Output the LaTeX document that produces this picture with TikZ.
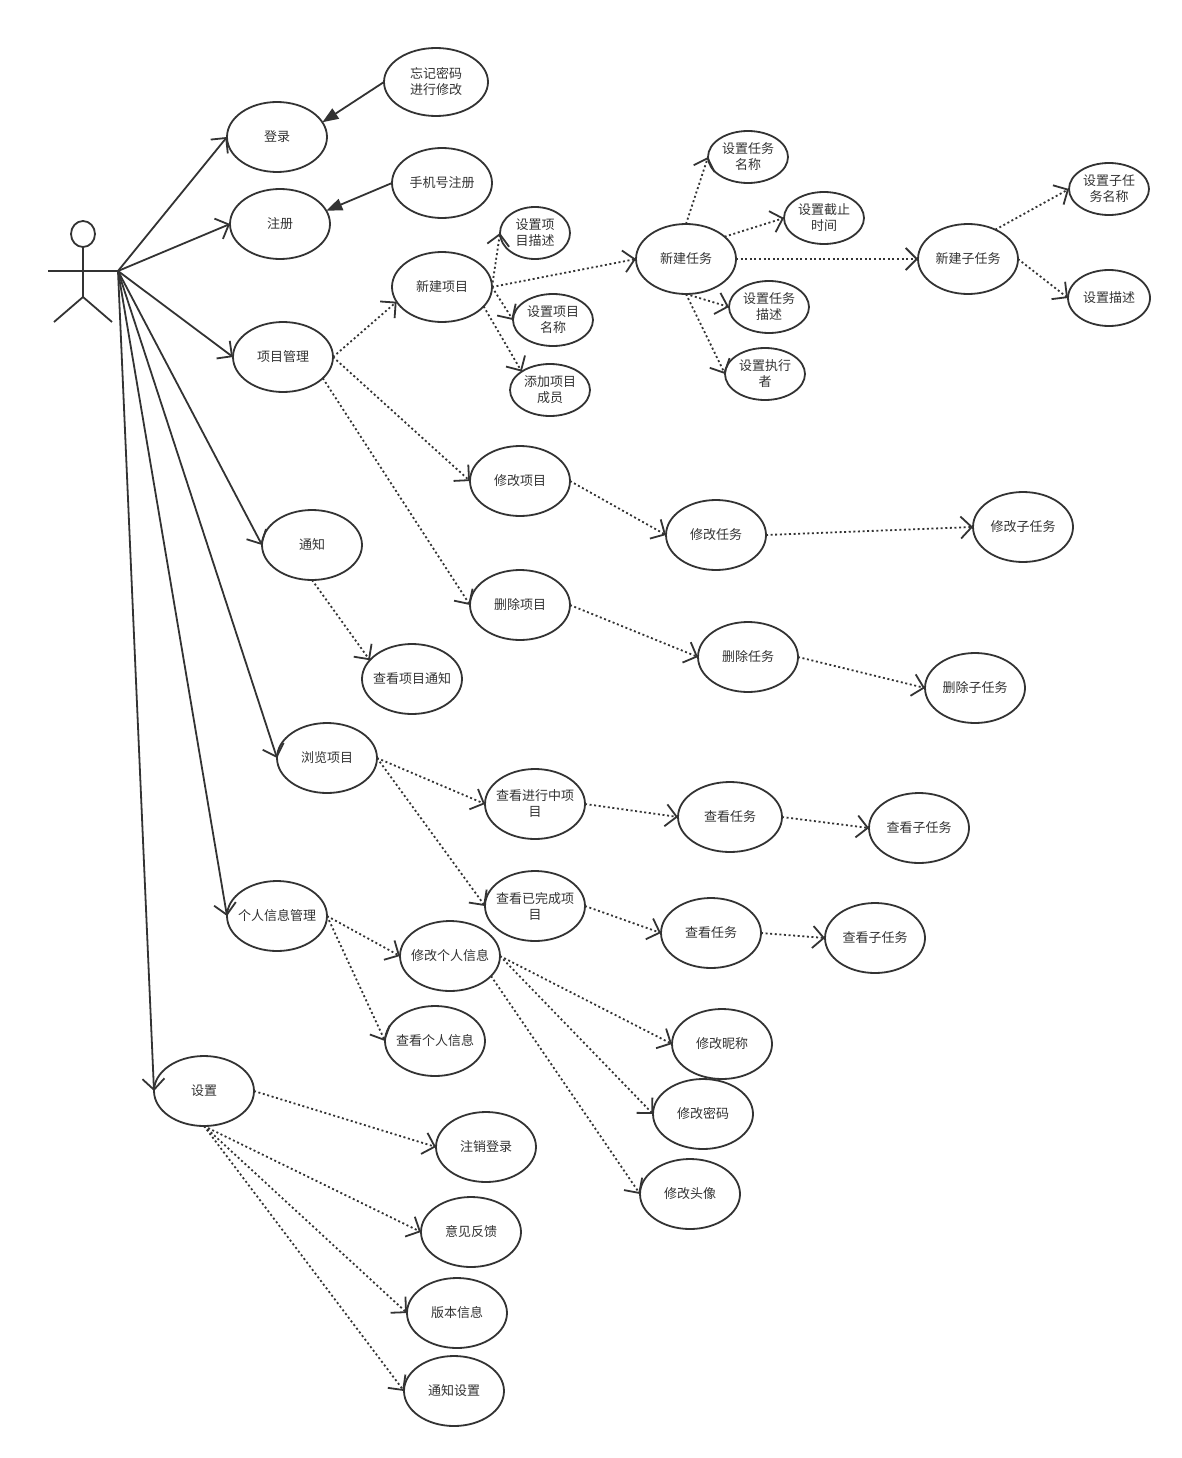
\documentclass[tikz,border=0pt]{standalone}
\usepackage{fontspec}
\setmainfont{Noto Sans CJK SC}
\usetikzlibrary{shapes.geometric,arrows.meta}
\definecolor{ink}{HTML}{333333}
\newcommand{\W}[1]{\makebox[0pt]{#1}}
\tikzset{
  uc/.style={ellipse,draw=ink,line width=1.8pt,fill=white,inner sep=0pt,outer sep=0pt,
    minimum width=100pt,minimum height=70pt,text=ink,align=center,font=\fontsize{13}{16}\selectfont},
  sm/.style={uc,minimum width=80pt,minimum height=52pt},
  line/.style={draw=ink,line width=1.8pt},
  opena/.style={line,-{Straight Barb[length=11pt,width=22pt,line width=1.8pt]}},
  solida/.style={line,-{Triangle[length=16pt,width=12pt,fill=ink]}},
  dota/.style={draw=ink,line width=1.8pt,dash pattern=on 2pt off 2.6pt,
    -{Straight Barb[length=11pt,width=22pt,line width=1.8pt,sep=0pt]}},
}
\begin{document}
\begin{tikzpicture}[x=1pt,y=-1pt]
\useasboundingbox (0,0) rectangle (1182,1458);
% actor
\node[ellipse,draw=ink,line width=1.8pt,inner sep=0pt,outer sep=0pt,minimum width=24pt,minimum height=26pt] (head) at (83,234) {};
\coordinate (armL) at (48,271);
\coordinate (hand) at (118,271);
\coordinate (hip) at (83,297);
\coordinate (legL) at (54,322);
\coordinate (legR) at (112,322);
\draw[line] (head.south) -- (hip);
\draw[line] (armL) -- (hand);
\draw[line] (legL) -- (hip) -- (legR);
% use cases
\node[uc,minimum width=104pt,minimum height=68pt] (forget) at (436,82) {\W{忘记密码}\\\W{进行修改}};
\node[uc] (login) at (277,137) {\W{登录}};
\node[uc] (phone) at (442,183) {\W{手机号注册}};
\node[uc] (reg) at (280,224) {\W{注册}};
\node[uc] (newp) at (442,287) {\W{新建项目}};
\node[uc] (pm) at (283,357) {\W{项目管理}};
\node[sm,minimum width=70pt] (pdesc) at (535,233) {\W{设置项}\\\W{目描述}};
\node[sm] (pname) at (553,320) {\W{设置项目}\\\W{名称}};
\node[sm] (pmem) at (550,390) {\W{添加项目}\\\W{成员}};
\node[uc] (newt) at (686,259) {\W{新建任务}};
\node[sm] (tname) at (748,157) {\W{设置任务}\\\W{名称}};
\node[sm] (tdue) at (824,218) {\W{设置截止}\\\W{时间}};
\node[sm] (tdesc) at (769,307) {\W{设置任务}\\\W{描述}};
\node[sm] (texec) at (765,374) {\W{设置执行}\\\W{者}};
\node[uc] (news) at (968,259) {\W{新建子任务}};
\node[sm] (sname) at (1109,189) {\W{设置子任}\\\W{务名称}};
\node[sm,minimum width=82pt,minimum height=56pt] (sdesc) at (1109,298) {\W{设置描述}};
\node[uc] (editp) at (520,481) {\W{修改项目}};
\node[uc] (editt) at (716,535) {\W{修改任务}};
\node[uc] (edits) at (1023,527) {\W{修改子任务}};
\node[uc] (notice) at (312,545) {\W{通知}};
\node[uc] (delp) at (520,605) {\W{删除项目}};
\node[uc] (delt) at (748,657) {\W{删除任务}};
\node[uc] (dels) at (975,688) {\W{删除子任务}};
\node[uc] (seen) at (412,679) {\W{查看项目通知}};
\node[uc] (browse) at (327,758) {\W{浏览项目}};
\node[uc] (ongo) at (535,804) {\W{查看进行中项}\\\W{目}};
\node[uc,minimum width=104pt] (vt1) at (730,817) {\W{查看任务}};
\node[uc] (vs1) at (919,828) {\W{查看子任务}};
\node[uc] (done) at (535,906) {\W{查看已完成项}\\\W{目}};
\node[uc] (vt2) at (711,933) {\W{查看任务}};
\node[uc] (vs2) at (875,938) {\W{查看子任务}};
\node[uc] (info) at (277,916) {\W{个人信息管理}};
\node[uc] (editi) at (450,956) {\W{修改个人信息}};
\node[uc] (viewi) at (435,1041) {\W{查看个人信息}};
\node[uc] (nick) at (722,1044) {\W{修改昵称}};
\node[uc] (pwd) at (703,1114) {\W{修改密码}};
\node[uc] (avatar) at (690,1194) {\W{修改头像}};
\node[uc] (set) at (204,1091) {\W{设置}};
\node[uc] (logout) at (486,1147) {\W{注销登录}};
\node[uc] (feed) at (471,1232) {\W{意见反馈}};
\node[uc] (ver) at (457,1313) {\W{版本信息}};
\node[uc] (nset) at (454,1391) {\W{通知设置}};
% actor connectors
\draw[opena] (hand) -- (login.west);
\draw[opena] (hand) -- (reg.west);
\draw[opena] (hand) -- (pm.west);
\draw[opena] (hand) -- (notice.west);
\draw[opena] (hand) -- (browse.west);
\draw[opena] (hand) -- (info.west);
\draw[opena] (hand) -- (set.west);
% solid
\draw[solida] (forget.west) -- (login.18);
\draw[solida] (phone.west) -- (reg.16);
% dotted
\draw[dota] (pm.east) -- (newp.198);
\draw[dota] (pm.east) -- (editp.west);
\draw[dota] (pm.-28) -- (delp.west);
\draw[dota] (newp.east) -- (pdesc.west);
\draw[dota] (newp.east) -- (pname.west);
\draw[dota] (newp.-25) -- (pmem.147);
\draw[dota] (newp.east) -- (newt.west);
\draw[dota] (newt.north) -- (tname.west);
\draw[dota] (newt.30) -- (tdue.west);
\draw[dota] (newt.east) -- (news.west);
\draw[dota] (newt.south) -- (tdesc.west);
\draw[dota] (newt.south) -- (texec.west);
\draw[dota] (news.47) -- (sname.west);
\draw[dota] (news.east) -- (sdesc.west);
\draw[dota] (editp.east) -- (editt.west);
\draw[dota] (editt.east) -- (edits.west);
\draw[dota] (delp.east) -- (delt.west);
\draw[dota] (delt.east) -- (dels.west);
\draw[dota] (notice.south) -- (seen.156);
\draw[dota] (browse.east) -- (ongo.west);
\draw[dota] (browse.east) -- (done.west);
\draw[dota] (ongo.east) -- (vt1.west);
\draw[dota] (vt1.east) -- (vs1.west);
\draw[dota] (done.east) -- (vt2.west);
\draw[dota] (vt2.east) -- (vs2.west);
\draw[dota] (info.east) -- (editi.west);
\draw[dota] (info.east) -- (viewi.west);
\draw[dota] (editi.east) -- (nick.west);
\draw[dota] (editi.east) -- (pwd.west);
\draw[dota] (editi.-26) -- (avatar.west);
\draw[dota] (set.east) -- (logout.west);
\draw[dota] (set.south) -- (feed.west);
\draw[dota] (set.south) -- (ver.west);
\draw[dota] (set.south) -- (nset.west);
\end{tikzpicture}
\end{document}
